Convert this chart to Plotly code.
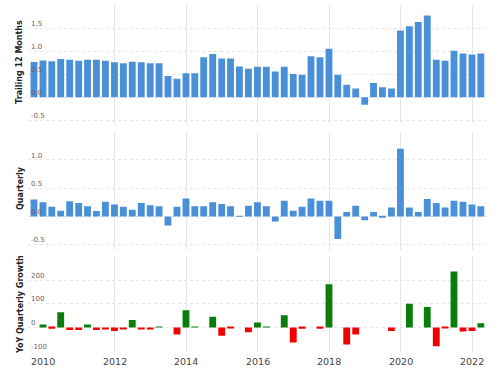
import plotly.graph_objects as go
from plotly.subplots import make_subplots

quarters = [
    "2009-09-30", "2009-12-31", "2010-03-31", "2010-06-30", "2010-09-30", "2010-12-31",
    "2011-03-31", "2011-06-30", "2011-09-30", "2011-12-31", "2012-03-31", "2012-06-30",
    "2012-09-30", "2012-12-31", "2013-03-31", "2013-06-30", "2013-09-30", "2013-12-31",
    "2014-03-31", "2014-06-30", "2014-09-30", "2014-12-31", "2015-03-31", "2015-06-30",
    "2015-09-30", "2015-12-31", "2016-03-31", "2016-06-30", "2016-09-30", "2016-12-31",
    "2017-03-31", "2017-06-30", "2017-09-30", "2017-12-31", "2018-03-31", "2018-06-30",
    "2018-09-30", "2018-12-31", "2019-03-31", "2019-06-30", "2019-09-30", "2019-12-31",
    "2020-03-31", "2020-06-30", "2020-09-30", "2020-12-31", "2021-03-31", "2021-06-30",
    "2021-09-30", "2021-12-31", "2022-03-31",
]

ttm_eps = [
    0.765, 0.80, 0.78, 0.83, 0.815, 0.79, 0.815, 0.815, 0.79, 0.76,
    0.74, 0.77, 0.76, 0.74, 0.74, 0.46, 0.40, 0.52, 0.52, 0.87,
    0.94, 0.84, 0.84, 0.67, 0.62, 0.66, 0.66, 0.56, 0.66, 0.505,
    0.49, 0.89, 0.87, 1.05, 0.49, 0.27, 0.19, -0.16, 0.31, 0.22,
    0.19, 1.45, 1.54, 1.63, 1.775, 0.815, 0.79, 1.01, 0.95, 0.93, 0.95,
]

quarterly_eps = [
    0.30, 0.25, 0.17, 0.10, 0.27, 0.24, 0.18, 0.095, 0.26, 0.21,
    0.17, 0.12, 0.24, 0.20, 0.18, -0.16, 0.17, 0.32, 0.18, 0.18,
    0.25, 0.22, 0.18, 0.01, 0.19, 0.25, 0.18, -0.09, 0.28, 0.10,
    0.17, 0.32, 0.28, 0.28, -0.40, 0.08, 0.19, -0.065, 0.08, -0.01,
    0.16, 1.20, 0.16, 0.08, 0.31, 0.24, 0.16, 0.28, 0.26, 0.21, 0.18,
]

yoy_growth = [
    None, 12, -6, 64, -11, -11, 12.7, -11, -9, -15,
    -8.5, 31, -8.5, -8.5, 3, None, -30, 72, 2, None,
    45, -35, -3, None, -21, 21, 2, None, 51, -64,
    -6, None, -6, 182, None, -72, -30, None, None, None,
    -15.5, None, 100, None, 86, -80, -3, 236, -17, -15.5, 17,
]

year_ticks = ["2010-01-01", "2012-01-01", "2014-01-01", "2016-01-01",
              "2018-01-01", "2020-01-01", "2022-01-01"]
year_labels = ["2010", "2012", "2014", "2016", "2018", "2020", "2022"]

panel_titles = ["Trailing 12 Months", "Quarterly", "YoY Quarterly Growth"]

BLUE = "#4a90d9"
GREEN = "#0a7d0a"
RED = "#f20000"
GRID = "#e6e6e6"
BAR_W = 70 * 86400000

fig = make_subplots(rows=3, cols=1, shared_xaxes=True, vertical_spacing=0.02)

fig.add_trace(go.Bar(x=quarters, y=ttm_eps, width=BAR_W, marker_color=BLUE,
                     marker_line_width=0), row=1, col=1)
fig.add_trace(go.Bar(x=quarters, y=quarterly_eps, width=BAR_W, marker_color=BLUE,
                     marker_line_width=0), row=2, col=1)
yoy_colors = [GREEN if (v is not None and v >= 0) else RED for v in yoy_growth]
fig.add_trace(go.Bar(x=quarters, y=yoy_growth, width=BAR_W, marker_color=yoy_colors,
                     marker_line_width=0), row=3, col=1)

font_family = "DejaVu Sans"
x_common = dict(type="date", range=["2009-07-31", "2022-05-23"], autorange=False,
                tickmode="array", tickvals=year_ticks, ticktext=year_labels,
                showgrid=True, gridcolor=GRID, gridwidth=1, automargin=False,
                showline=False, zeroline=False, ticks="", showticklabels=False)
fig.update_xaxes(**x_common)

# year labels under the bottom panel (as text placed on the x scale)
for tv, tl in zip(year_ticks, year_labels):
    fig.add_annotation(text=tl, xref="x3", yref="paper", x=tv, y=0,
                       xanchor="center", yanchor="top", yshift=-2, showarrow=False,
                       font=dict(size=9.5, color="#444", family=font_family))

y_common = dict(showgrid=True, gridcolor=GRID, griddash="dot", zeroline=False,
                showline=False, ticks="", ticklabelposition="inside top", automargin=False,
                tickfont=dict(size=7, color="#666", family=font_family))
fig.update_yaxes(**y_common)
fig.update_yaxes(domain=[0.6608, 1.0], range=[-0.55, 2.0],
                 tickvals=[-0.5, 0, 0.5, 1.0, 1.5, 2.0],
                 ticktext=["-0.5", "0.0", "0.5", "1.0", "1.5", ""],
                 row=1, col=1)
fig.update_yaxes(domain=[0.2928, 0.6349], range=[-0.6, 1.5],
                 tickvals=[-0.5, 0, 0.5, 1.0, 1.5],
                 ticktext=["-0.5", "0.0", "0.5", "1.0", ""],
                 row=2, col=1)
fig.update_yaxes(domain=[0.0, 0.2755], range=[-104, 300],
                 tickvals=[-100, 0, 100, 200, 300],
                 ticktext=["-100", "0", "100", "200", ""],
                 row=3, col=1)

title_y = [0.836, 0.4726, 0.138]
for txt, yy in zip(panel_titles, title_y):
    fig.add_annotation(text="<b>" + txt + "</b>", xref="paper", yref="paper",
                       x=-0.0175, y=yy, xanchor="center", yanchor="middle",
                       textangle=-90, showarrow=False,
                       font=dict(size=8, color="#222", family=font_family))

fig.update_layout(
    width=500, height=368,
    margin=dict(l=28, r=14, t=5, b=16, autoexpand=False),
    paper_bgcolor="white", plot_bgcolor="white",
    showlegend=False,
    font=dict(family=font_family),
)

fig.write_html("out.html", config={"displayModeBar": False},
               post_script="document.body.style.margin='0';document.body.style.padding='0';")
